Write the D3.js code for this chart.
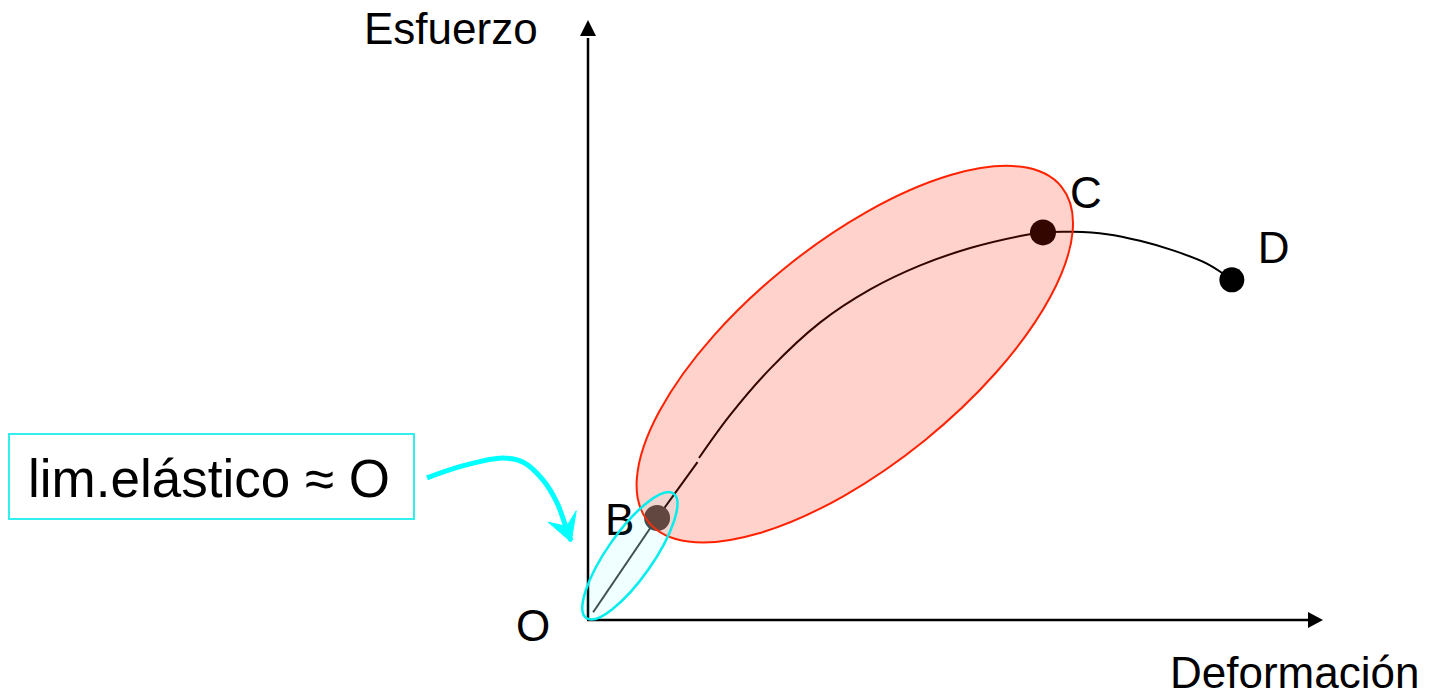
<!DOCTYPE html>
<html lang="es">
<head>
    <meta charset="UTF-8">
    <title>Esfuerzo - Deformación</title>
    <script src="https://d3js.org/d3.v7.min.js"></script>
    <style>
        body { margin: 0; background: #fff; }
        text { font-family: "Liberation Sans", Arial, sans-serif; fill: #000; }
    </style>
</head>
<body>
    <svg width="1430" height="698"></svg>
    <script>
        // curve O -> B (straight elastic part), then plastic curve up to C and D
        const elastic = [[0.7, 1.3], [9.4, 17.0]];
        const elasticTail = [[9.4, 17.0], [14.9, 26.3]];
        const plastic = [
            [15.1, 27.0], [19.3, 34.1], [24.8, 41.9], [31.6, 49.6], [38.4, 55.1],
            [45.2, 59.1], [52.0, 62.0], [58.8, 64.0], [61.9, 64.6], [66.0, 64.7],
            [70.6, 64.3], [75.1, 63.2], [79.6, 61.6], [84.2, 59.4], [87.6, 56.7]
        ];
        const points = [
            { name: "B", x: 9.4, y: 17.0 },
            { name: "C", x: 61.9, y: 64.6 },
            { name: "D", x: 87.6, y: 56.7 }
        ];
        // highlighted regions (center in data units)
        const regions = [
            { name: "plastica", cx: 36.3, cy: 44.3 },
            { name: "elastica", cx: 5.7, cy: 10.7 }
        ];
        // callout arrow from the label box towards O
        const callout = [
            [-21.9, 23.7], [-16.7, 25.8], [-11.6, 27.0], [-8.8, 26.3],
            [-6.1, 23.3], [-4.2, 19.5], [-3.0, 15.5], [-2.3, 13.2]
        ];
        const calloutHead = [[-5.4, 16.3], [-2.3, 13.0], [-1.6, 18.2], [-2.9, 15.6]];

        const svg = d3.select("svg");

        const x = d3.scaleLinear().domain([0, 100]).range([588, 1323]);
        const y = d3.scaleLinear().domain([0, 100]).range([620, 20]);

        const line = d3.line().x(d => x(d[0])).y(d => y(d[1]));

        // axes
        svg.append("line")
            .attr("x1", x(0)).attr("y1", y(0))
            .attr("x2", x(0)).attr("y2", y(97))
            .attr("stroke", "#000").attr("stroke-width", 2.5);
        svg.append("line")
            .attr("x1", x(0) - 1).attr("y1", y(0))
            .attr("x2", x(98)).attr("y2", y(0))
            .attr("stroke", "#000").attr("stroke-width", 2.5);
        svg.append("path")
            .attr("d", `M${x(0)},${y(100)} L${x(0) - 8},${y(100) + 16} L${x(0) + 8},${y(100) + 16} Z`)
            .attr("fill", "#000");
        svg.append("path")
            .attr("d", `M${x(100)},${y(0)} L${x(100) - 15},${y(0) - 8} L${x(100) - 15},${y(0) + 8} Z`)
            .attr("fill", "#000");

        svg.append("text").attr("x", 364).attr("y", 44)
            .style("font-size", "44px").text("Esfuerzo");
        svg.append("text").attr("x", 1170).attr("y", 688)
            .style("font-size", "44px").text("Deformación");
        svg.append("text").attr("x", 516).attr("y", 641)
            .style("font-size", "44px").text("O");

        // stress-strain curve
        svg.append("path").datum(elastic)
            .attr("d", line).attr("fill", "none")
            .attr("stroke", "#444").attr("stroke-width", 2);
        svg.append("path").datum(elasticTail)
            .attr("d", line).attr("fill", "none")
            .attr("stroke", "#000").attr("stroke-width", 2);
        svg.append("path").datum(plastic)
            .attr("d", line.curve(d3.curveCatmullRom.alpha(0.5))).attr("fill", "none")
            .attr("stroke", "#000").attr("stroke-width", 2);

        // point labels (B sits under its dot)
        const labelOffset = { B: [-52, 17], C: [27, -24], D: [26, -17] };
        svg.selectAll(".plabel").data(points).enter().append("text")
            .attr("class", "plabel")
            .attr("x", d => x(d.x) + labelOffset[d.name][0])
            .attr("y", d => y(d.y) + labelOffset[d.name][1])
            .style("font-size", "44px")
            .text(d => d.name);

        svg.selectAll(".dot").data(points).enter().append("circle")
            .attr("class", "dot")
            .attr("cx", d => x(d.x)).attr("cy", d => y(d.y))
            .attr("r", d => d.name == "D" ? 12.5 : 13)
            .attr("fill", d => d.name == "B" ? "#444" : "#000");

        // ellipses on top, semi transparent
        const pink = regions[0], cyan = regions[1];
        svg.append("ellipse")
            .attr("transform", `translate(${x(pink.cx)},${y(pink.cy)}) rotate(-39)`)
            .attr("rx", 266).attr("ry", 111)
            .attr("fill", "rgb(255,30,0)").attr("fill-opacity", 0.2)
            .attr("stroke", "#ff2200").attr("stroke-width", 2);
        svg.append("ellipse")
            .attr("transform", `translate(${x(cyan.cx)},${y(cyan.cy)}) rotate(-55)`)
            .attr("rx", 76).attr("ry", 23)
            .attr("fill", "#00ffff").attr("fill-opacity", 0.06)
            .attr("stroke", "#00eeee").attr("stroke-width", 2.5);

        // label box
        svg.append("rect")
            .attr("x", 9).attr("y", 434).attr("width", 405).attr("height", 85)
            .attr("fill", "none").attr("stroke", "#33eeee").attr("stroke-width", 2);
        svg.append("text").attr("x", 28).attr("y", 497)
            .style("font-size", "53px").text("lim.elástico ≈ O");

        svg.append("path").datum(callout)
            .attr("d", d3.line().x(d => x(d[0])).y(d => y(d[1])).curve(d3.curveCatmullRom))
            .attr("fill", "none")
            .attr("stroke", "#00ffff").attr("stroke-width", 5).attr("stroke-linecap", "butt");
        svg.append("path").datum(calloutHead)
            .attr("d", d3.line().x(d => x(d[0])).y(d => y(d[1])).curve(d3.curveLinearClosed))
            .attr("fill", "#00ffff").attr("stroke", "#00ffff").attr("stroke-width", 1);
    </script>
</body>
</html>
